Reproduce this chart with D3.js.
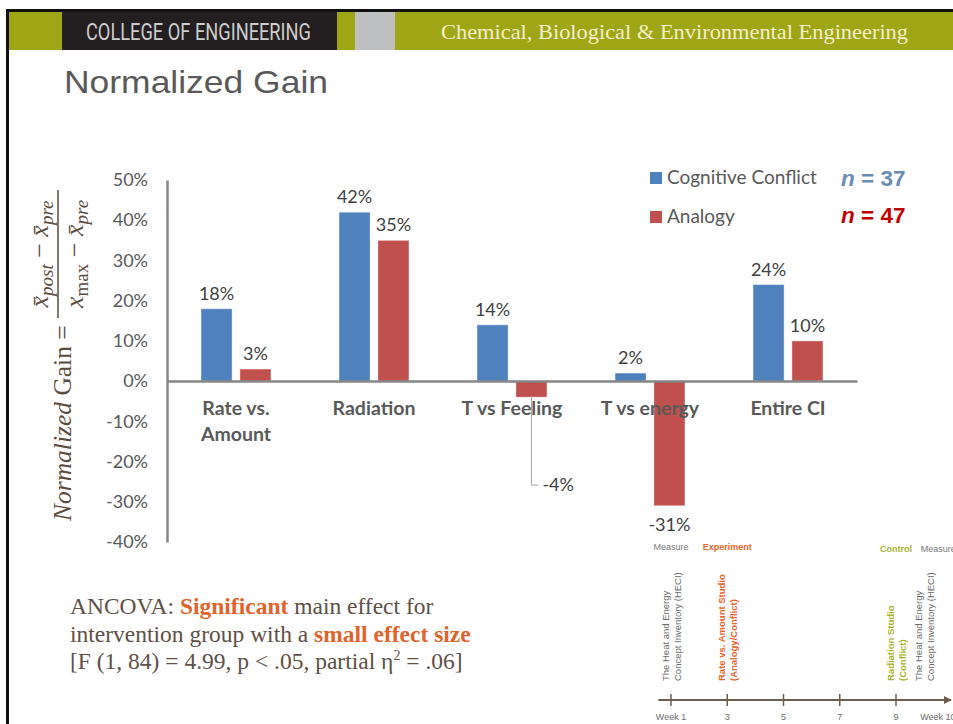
<!DOCTYPE html>
<html>
<head>
<meta charset="utf-8">
<script src="https://cdn.jsdelivr.net/npm/d3@7"></script>
<style>
  body { margin: 0; background: #fff; }
  svg { display: block; }
</style>
</head>
<body>
<div id="chart"></div>
<script>
// Chart data
const categories = ['Rate vs. Amount', 'Radiation', 'T vs Feeling', 'T vs energy', 'Entire CI'];
const seriesNames = ['Cognitive Conflict', 'Analogy'];
const conflictGain = [0.18, 0.42, 0.14, 0.02, 0.24];
const analogyGain = [0.03, 0.35, -0.04, -0.31, 0.10];
const groupSizes = [37, 47];
const yTicks = [0.5, 0.4, 0.3, 0.2, 0.1, 0, -0.1, -0.2, -0.3, -0.4];

// Timeline data
const weekTicks = [1, 3, 5, 7, 9];
const weekLabels = ['Week 1', '3', '5', '7', '9'];
const eventWeeks = [1, 3, 9, 10];
const eventLines = [
  ['The Heat and Energy', 'Concept Inventory (HECI)'],
  ['Rate vs. Amount Studio', '(Analogy/Conflict)'],
  ['Radiation Studio', '(Conflict)'],
  ['The Heat and Energy', 'Concept Inventory (HECI)']
];
const eventKinds = ['measure', 'experiment', 'control', 'measure'];

const width = 953;
const height = 724;
const colors = ['#4f81bd', '#c0504d'];
const kindColor = { measure: '#6b6b6b', experiment: '#e3652b', control: '#a9b42c' };

// percent with a plain hyphen, like the original
const pct = d => d3.format('.0%')(d).replace('\u2212', '-');

const svg = d3.select('#chart')
  .append('svg')
  .attr('width', width)
  .attr('height', height);

// Slide frame + header band
svg.append('rect').attr('x', 6).attr('y', 9).attr('width', width - 6).attr('height', 3).attr('fill', '#111');
svg.append('rect').attr('x', 6).attr('y', 9).attr('width', 3).attr('height', height - 9).attr('fill', '#111');
svg.append('rect').attr('x', 9).attr('y', 12).attr('width', width - 9).attr('height', 38).attr('fill', '#9fa616');
svg.append('rect').attr('x', 62).attr('y', 12).attr('width', 275).attr('height', 38).attr('fill', '#231f20');
svg.append('rect').attr('x', 355).attr('y', 12).attr('width', 40).attr('height', 38).attr('fill', '#bdbfc1');

svg.append('text')
  .attr('x', 86).attr('y', 40)
  .attr('textLength', 225).attr('lengthAdjust', 'spacingAndGlyphs')
  .style('font-family', '"Liberation Sans Narrow", "Roboto", sans-serif')
  .style('font-size', '24px')
  .style('fill', '#cdcdcd')
  .text('COLLEGE OF ENGINEERING');

svg.append('text')
  .attr('x', 441).attr('y', 39)
  .attr('textLength', 467).attr('lengthAdjust', 'spacingAndGlyphs')
  .style('font-family', '"Liberation Serif", serif')
  .style('font-size', '21px')
  .style('fill', '#f4efc6')
  .text('Chemical, Biological & Environmental Engineering');

// Title
svg.append('text')
  .attr('x', 64).attr('y', 93)
  .attr('textLength', 264).attr('lengthAdjust', 'spacingAndGlyphs')
  .style('font-family', '"Liberation Sans", Arial, sans-serif')
  .style('font-size', '32px')
  .style('fill', '#595959')
  .text('Normalized Gain');

// Scales
const x0 = d3.scaleBand()
  .domain(categories)
  .range([167, 857]);
const x1 = d3.scaleBand()
  .domain(seriesNames)
  .range([0, 70])
  .paddingInner(0.2);
const y = d3.scaleLinear()
  .domain([-0.4, 0.5])
  .range([542, 180]);

const rows = categories.map((c, i) => ({
  category: c,
  values: [conflictGain[i], analogyGain[i]].map((v, j) => ({ series: seriesNames[j], value: v, idx: j }))
}));

const groupOffset = (x0.bandwidth() - 70) / 2;

// Bars
const groups = svg.selectAll('.group')
  .data(rows)
  .enter().append('g')
  .attr('class', 'group')
  .attr('transform', d => `translate(${x0(d.category) + groupOffset},0)`);

groups.selectAll('rect')
  .data(d => d.values)
  .enter().append('rect')
  .attr('x', d => x1(d.series))
  .attr('width', x1.bandwidth())
  .attr('y', d => y(Math.max(0, d.value)))
  .attr('height', d => Math.abs(y(d.value) - y(0)))
  .attr('fill', d => colors[d.idx])
  .attr('stroke', 'rgba(255,255,255,0.45)')
  .attr('stroke-width', 1);

// Y axis
const yAxis = svg.append('g')
  .attr('transform', 'translate(167,0)')
  .call(d3.axisLeft(y).tickValues(yTicks).tickSize(0).tickSizeOuter(0).tickPadding(19)
    .tickFormat(pct));
yAxis.select('.domain').attr('stroke', '#868686').attr('stroke-width', 2.5);
yAxis.selectAll('text')
  .style('font-family', 'Lato, "Open Sans", sans-serif')
  .style('font-size', '18px')
  .style('fill', '#595959');

// X axis (zero line) with category labels
const xAxis = svg.append('g')
  .attr('transform', `translate(0,${y(0)})`)
  .call(d3.axisBottom(x0).tickSize(0).tickSizeOuter(0).tickFormat(''));
xAxis.select('.domain').attr('stroke', '#868686').attr('stroke-width', 2.5);

function wrapLines(label) {
  // mimic the chart's wrapping of long category names
  const words = label.split(' ');
  if (label.length <= 12) return [label];
  const lines = [];
  let cur = '';
  words.forEach(w => {
    const t = cur ? cur + ' ' + w : w;
    if (t.length > 9 && cur) { lines.push(cur); cur = w; } else cur = t;
  });
  lines.push(cur);
  return lines;
}

const catText = svg.selectAll('.cat')
  .data(categories)
  .enter().append('text')
  .attr('class', 'cat')
  .attr('x', d => x0(d) + x0.bandwidth() / 2)
  .attr('y', y(0) + 34)
  .style('text-anchor', 'middle')
  .style('font-family', 'Lato, "Open Sans", sans-serif')
  .style('font-weight', 'bold')
  .style('font-size', '19.5px')
  .style('fill', '#595959');
catText.each(function(d) {
  const t = d3.select(this);
  wrapLines(d).forEach((line, i) => {
    t.append('tspan')
      .attr('x', x0(d) + x0.bandwidth() / 2)
      .attr('dy', i === 0 ? 0 : 26)
      .text(line);
  });
});

// Data labels
groups.each(function(row) {
  const g = d3.select(this);
  row.values.forEach(d => {
    const cx = x1(d.series) + x1.bandwidth() / 2;
    const label = g.append('text')
      .style('font-family', 'Lato, "Open Sans", sans-serif')
      .style('font-size', '18px')
      .style('fill', '#404040')
      .text(pct(d.value));
    if (d.value >= 0) {
      label.attr('x', cx).attr('y', y(d.value) - 9).style('text-anchor', 'middle');
    } else if (y(d.value) - y(0) < 40) {
      // small negative bar: label pushed below category text with a leader line
      const ly = y(0) + 104;
      g.append('path')
        .attr('d', `M${cx},${y(d.value) - 1}V${ly}H${cx + 7}`)
        .attr('fill', 'none')
        .attr('stroke', '#a6a6a6')
        .attr('stroke-width', 1);
      label.attr('x', cx + 11).attr('y', ly + 6).style('text-anchor', 'start');
    } else {
      label.attr('x', cx).attr('y', y(d.value) + 25).style('text-anchor', 'middle');
    }
  });
});

// Legend
const legend = svg.selectAll('.legend')
  .data(seriesNames)
  .enter().append('g')
  .attr('class', 'legend')
  .attr('transform', (d, i) => `translate(650,${172 + i * 39})`);
legend.append('rect')
  .attr('width', 12).attr('height', 12)
  .attr('fill', (d, i) => colors[i]);
legend.append('text')
  .attr('x', 17).attr('y', 12)
  .style('font-family', 'Lato, "Open Sans", sans-serif')
  .style('font-size', '19px')
  .style('fill', '#595959')
  .text(d => d);

const nColors = ['#6a8cb4', '#c00000'];
svg.selectAll('.ncount')
  .data(groupSizes)
  .enter().append('text')
  .attr('class', 'ncount')
  .attr('x', 841)
  .attr('y', (d, i) => 186 + i * 37)
  .style('font-family', '"Liberation Sans", Arial, sans-serif')
  .style('font-weight', 'bold')
  .style('font-size', '22.5px')
  .style('fill', (d, i) => nColors[i])
  .each(function(d) {
    const t = d3.select(this);
    t.append('tspan').style('font-style', 'italic').text('n');
    t.append('tspan').text(' = ' + d);
  });

// Y axis formula label (rotated)
const formula = svg.append('g')
  .attr('transform', 'rotate(-90)')
  .style('font-family', '"Liberation Serif", "DejaVu Serif", serif')
  .style('fill', '#5a4b3d');
const mainLab = formula.append('text')
  .attr('x', -521).attr('y', 71)
  .style('font-size', '25.5px');
mainLab.append('tspan').style('font-style', 'italic').text('Normalized');
mainLab.append('tspan').text(' Gain =');

formula.append('line')
  .attr('x1', -318).attr('x2', -190)
  .attr('y1', 58).attr('y2', 58)
  .attr('stroke', '#5a4b3d').attr('stroke-width', 1.5);

function addTerm(text, parts) {
  parts.forEach(p => {
    const ts = text.append('tspan').text(p.t);
    if (p.italic) ts.style('font-style', 'italic');
    if (p.sub) ts.style('font-size', '19px').attr('dy', 5);
    if (p.back) ts.attr('dy', -5);
  });
}
const num = formula.append('text')
  .attr('x', -254).attr('y', 48)
  .style('text-anchor', 'middle')
  .style('font-size', '26px');
addTerm(num, [
  { t: 'x\u0304', italic: true },
  { t: 'post', italic: true, sub: true },
  { t: ' \u2212 ', back: true },
  { t: 'x\u0304', italic: true },
  { t: 'pre', italic: true, sub: true }
]);
const den = formula.append('text')
  .attr('x', -254).attr('y', 83)
  .style('text-anchor', 'middle')
  .style('font-size', '26px');
addTerm(den, [
  { t: 'x', italic: true },
  { t: 'max', sub: true },
  { t: ' \u2212 ', back: true },
  { t: 'x\u0304', italic: true },
  { t: 'pre', italic: true, sub: true }
]);

// ANCOVA note
const noteColor = '#5e5046';
const hiColor = '#e0632b';
const noteLines = [
  [{ t: 'ANCOVA: ' }, { t: 'Significant', hi: true }, { t: ' main effect for' }],
  [{ t: 'intervention group with a ' }, { t: 'small effect size', hi: true }],
  [{ t: '[F (1, 84) = 4.99, p < .05, partial \u03b7' }, { t: '2', sup: true }, { t: ' = .06]', down: true }]
];
noteLines.forEach((parts, i) => {
  const t = svg.append('text')
    .attr('x', 70).attr('y', 614 + i * 27.5)
    .style('font-family', '"Liberation Serif", "Times New Roman", serif')
    .style('font-size', '23.5px')
    .style('fill', noteColor);
  parts.forEach(p => {
    const ts = t.append('tspan').text(p.t);
    if (p.hi) ts.style('fill', hiColor).style('font-weight', 'bold');
    if (p.sup) ts.style('font-size', '14px').attr('dy', -9);
    if (p.down) ts.attr('dy', 9);
  });
});

// Timeline
const xw = d3.scaleLinear().domain([1, 9]).range([671, 896]);
const tlY = 700;
const tlColor = '#6d5d4f';
svg.append('defs').append('marker')
  .attr('id', 'arrow')
  .attr('viewBox', '0 0 10 10')
  .attr('refX', 9).attr('refY', 5)
  .attr('markerWidth', 4).attr('markerHeight', 4)
  .attr('orient', 'auto')
  .append('path').attr('d', 'M0,0L10,5L0,10z').attr('fill', tlColor);
svg.append('line')
  .attr('x1', xw(0.55)).attr('x2', width - 2)
  .attr('y1', tlY).attr('y2', tlY)
  .attr('stroke', tlColor).attr('stroke-width', 2)
  .attr('marker-end', 'url(#arrow)');
svg.selectAll('.wtick')
  .data(weekTicks)
  .enter().append('line')
  .attr('class', 'wtick')
  .attr('x1', d => xw(d)).attr('x2', d => xw(d))
  .attr('y1', tlY - 6).attr('y2', tlY + 6)
  .attr('stroke', tlColor).attr('stroke-width', 1.5);
svg.selectAll('.wlab')
  .data(weekTicks)
  .enter().append('text')
  .attr('class', 'wlab')
  .attr('x', d => xw(d))
  .attr('y', tlY + 20)
  .style('text-anchor', 'middle')
  .style('font-family', '"Liberation Sans", Arial, sans-serif')
  .style('font-size', '9px')
  .style('fill', '#6b6b6b')
  .text((d, i) => weekLabels[i]);
svg.append('text')
  .attr('x', xw(10) - 4).attr('y', tlY + 20)
  .style('font-family', '"Liberation Sans", Arial, sans-serif')
  .style('font-size', '9px')
  .style('fill', '#6b6b6b')
  .text('Week 10');

// phase headers
const headers = [
  { t: 'Measure', w: 1, kind: 'measure', dy: 0 },
  { t: 'Experiment', w: 3, kind: 'experiment', dy: 0 },
  { t: 'Control', w: 9, kind: 'control', dy: 2 },
  { t: 'Measure', w: 10.5, kind: 'measure', dy: 2 }
];
headers.forEach(h => {
  svg.append('text')
    .attr('x', xw(h.w)).attr('y', 550 + h.dy)
    .style('text-anchor', 'middle')
    .style('font-family', '"Liberation Sans", Arial, sans-serif')
    .style('font-size', '9px')
    .style('font-weight', h.kind === 'measure' ? 'normal' : 'bold')
    .style('fill', h.kind === 'measure' ? '#7a7a7a' : kindColor[h.kind])
    .text(h.t);
});

// rotated event descriptions
eventWeeks.forEach((w, i) => {
  const kind = eventKinds[i];
  const g = svg.append('g')
    .attr('transform', `translate(${xw(w) - 2},681) rotate(-90)`);
  eventLines[i].forEach((line, j) => {
    g.append('text')
      .attr('x', 0).attr('y', j * 12)
      .style('font-family', '"Liberation Sans", Arial, sans-serif')
      .style('font-size', '9.5px')
      .style('font-weight', kind === 'measure' ? 'normal' : 'bold')
      .style('fill', kindColor[kind])
      .text(line);
  });
});
</script>
</body>
</html>
